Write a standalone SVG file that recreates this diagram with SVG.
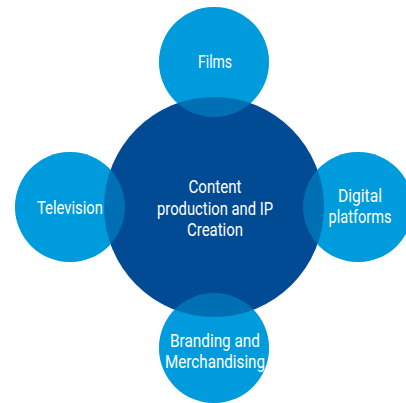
<svg xmlns="http://www.w3.org/2000/svg" width="406" height="403" viewBox="0 0 406 403">
  <style>
    .sat { fill: #009cdc; }
    .core { fill: #004b93; }
    .ov { fill: #009cdc; opacity: 0.45; }
    .lbl { fill: #ffffff; font-family: Roboto, "Liberation Sans", sans-serif; font-size: 18px; text-anchor: middle; }
  </style>
  <defs>
    <circle id="cFilms" cx="214" cy="62" r="55"/>
    <circle id="cTv" cx="70" cy="207" r="55"/>
    <circle id="cDig" cx="358" cy="207" r="55"/>
    <circle id="cBrand" cx="214" cy="348" r="55"/>
  </defs>
  <rect width="406" height="403" fill="#ffffff"/>
  <g id="films"><use href="#cFilms" class="sat"/></g>
  <g id="television"><use href="#cTv" class="sat"/></g>
  <g id="digital"><use href="#cDig" class="sat"/></g>
  <g id="branding"><use href="#cBrand" class="sat"/></g>
  <g id="core"><circle cx="214" cy="207" r="110" class="core"/></g>
  <g id="overlaps">
    <use href="#cFilms" class="ov"/>
    <use href="#cTv" class="ov"/>
    <use href="#cDig" class="ov"/>
    <use href="#cBrand" class="ov"/>
  </g>
  <g id="labels">
    <text class="lbl" x="215" y="68" textLength="34" lengthAdjust="spacingAndGlyphs">Films</text>
    <text class="lbl" x="70" y="214" textLength="66" lengthAdjust="spacingAndGlyphs">Television</text>
    <text class="lbl" x="360" y="202" textLength="44" lengthAdjust="spacingAndGlyphs">Digital</text>
    <text class="lbl" x="360" y="223" textLength="63" lengthAdjust="spacingAndGlyphs">platforms</text>
    <text class="lbl" x="215" y="347" textLength="90" lengthAdjust="spacingAndGlyphs">Branding and</text>
    <text class="lbl" x="215" y="368" textLength="100" lengthAdjust="spacingAndGlyphs">Merchandising</text>
    <text class="lbl" x="215" y="193" textLength="53" lengthAdjust="spacingAndGlyphs">Content</text>
    <text class="lbl" x="215" y="215" textLength="116" lengthAdjust="spacingAndGlyphs">production and IP</text>
    <text class="lbl" x="215" y="236" textLength="56" lengthAdjust="spacingAndGlyphs">Creation</text>
  </g>
  <g id="connectors"></g>
</svg>
